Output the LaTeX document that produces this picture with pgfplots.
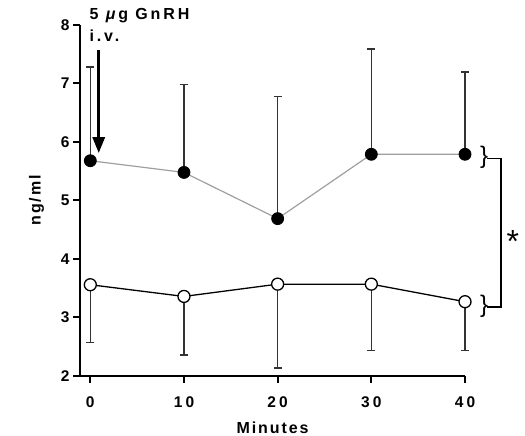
\documentclass[border=0pt]{standalone}
\usepackage{fontspec}
\setmainfont{Liberation Sans}
\newfontfamily\trk[LetterSpace=12]{Liberation Sans}
\newfontfamily\trknote[LetterSpace=18]{Liberation Sans}
\newfontfamily\trktick[LetterSpace=20]{Liberation Sans}
\usepackage{pgfplots}
\pgfplotsset{compat=1.18}
\usetikzlibrary{arrows.meta}
\newcommand{\lbl}{\trk\bfseries\fontsize{16}{16}\selectfont}
\newcommand{\tck}{\trktick\bfseries\fontsize{15.5}{15.5}\selectfont}
\newcommand{\note}{\trknote\bfseries\fontsize{16}{16}\selectfont}
\begin{document}
\begin{tikzpicture}[x=1pt,y=1pt]
\useasboundingbox (0,0) rectangle (525,436);
\begin{axis}[
    at={(80pt,60pt)}, anchor=south west,
    scale only axis,
    width=385pt, height=351pt,
    xmin=-1.1, xmax=40, ymin=2, ymax=8,
    axis lines=left,
    axis line style={-, line width=2.2pt},
    tick style={line width=2pt, black},
    tick align=outside,
    major tick length=7pt,
    xtick={0,10,20,30,40},
    ytick={2,3,4,5,6,7,8},
    /pgf/number format/assume math mode=true,
    ticklabel style={font=\tck},
    xticklabel style={yshift=-10pt},
    xlabel={Minutes}, ylabel={ng/ml},
    label style={font=\lbl},
    xlabel style={yshift=-8pt},
    ylabel style={yshift=10pt},
    clip=false,
]
% closed circles
\addplot[gray!75, line width=1.2pt, mark=*, mark size=6pt,
    mark options={black, fill=black, line width=0.8pt},
    error bars/.cd, y dir=plus, y explicit,
    error bar style={line width=1.5pt, black!80},
    error mark options={rotate=90, mark size=4pt, line width=1.5pt, black!80}]
coordinates {
    (0,5.68) +- (0,1.60)
    (10,5.48) +- (0,1.50)
    (20,4.69) +- (0,2.09)
    (30,5.79) +- (0,1.80)
    (40,5.79) +- (0,1.41)
};
% open circles
\addplot[black, line width=1.3pt, mark=*, mark size=6pt,
    mark options={black, fill=white, line width=1.3pt},
    error bars/.cd, y dir=minus, y explicit,
    error bar style={line width=1.5pt, black!80},
    error mark options={rotate=90, mark size=4pt, line width=1.5pt, black!80}]
coordinates {
    (0,3.56) +- (0,0.99)
    (10,3.36) +- (0,1.00)
    (20,3.57) +- (0,1.43)
    (30,3.57) +- (0,1.13)
    (40,3.27) +- (0,0.83)
};
% injection arrow
\draw[line width=3pt, -{Triangle[length=16pt,width=12pt]}]
    (axis cs:0.9,7.57) -- (axis cs:0.9,5.81);
\node[anchor=base west, font=\note, inner sep=0pt] at (axis cs:-0.1,8.1) {5 \textit{μ}g GnRH};
\node[anchor=base west, font=\note, inner sep=0pt] at (axis cs:-0.1,7.72) {i.v.};
% significance bracket
\node[anchor=east, inner sep=0pt, font=\fontsize{24}{24}\selectfont] at (axis cs:42.5,5.74) {\}};
\node[anchor=east, inner sep=0pt, font=\fontsize{24}{24}\selectfont] at (axis cs:42.5,3.20) {\}};
\draw[line width=1.2pt] (axis cs:42.4,5.72) -- (axis cs:43.85,5.72) -- (axis cs:43.85,3.18) -- (axis cs:42.4,3.18);
\node[inner sep=0pt, font=\fontsize{32}{32}\selectfont] at (axis cs:45.1,4.3) {*};
\end{axis}
\end{tikzpicture}
\end{document}
